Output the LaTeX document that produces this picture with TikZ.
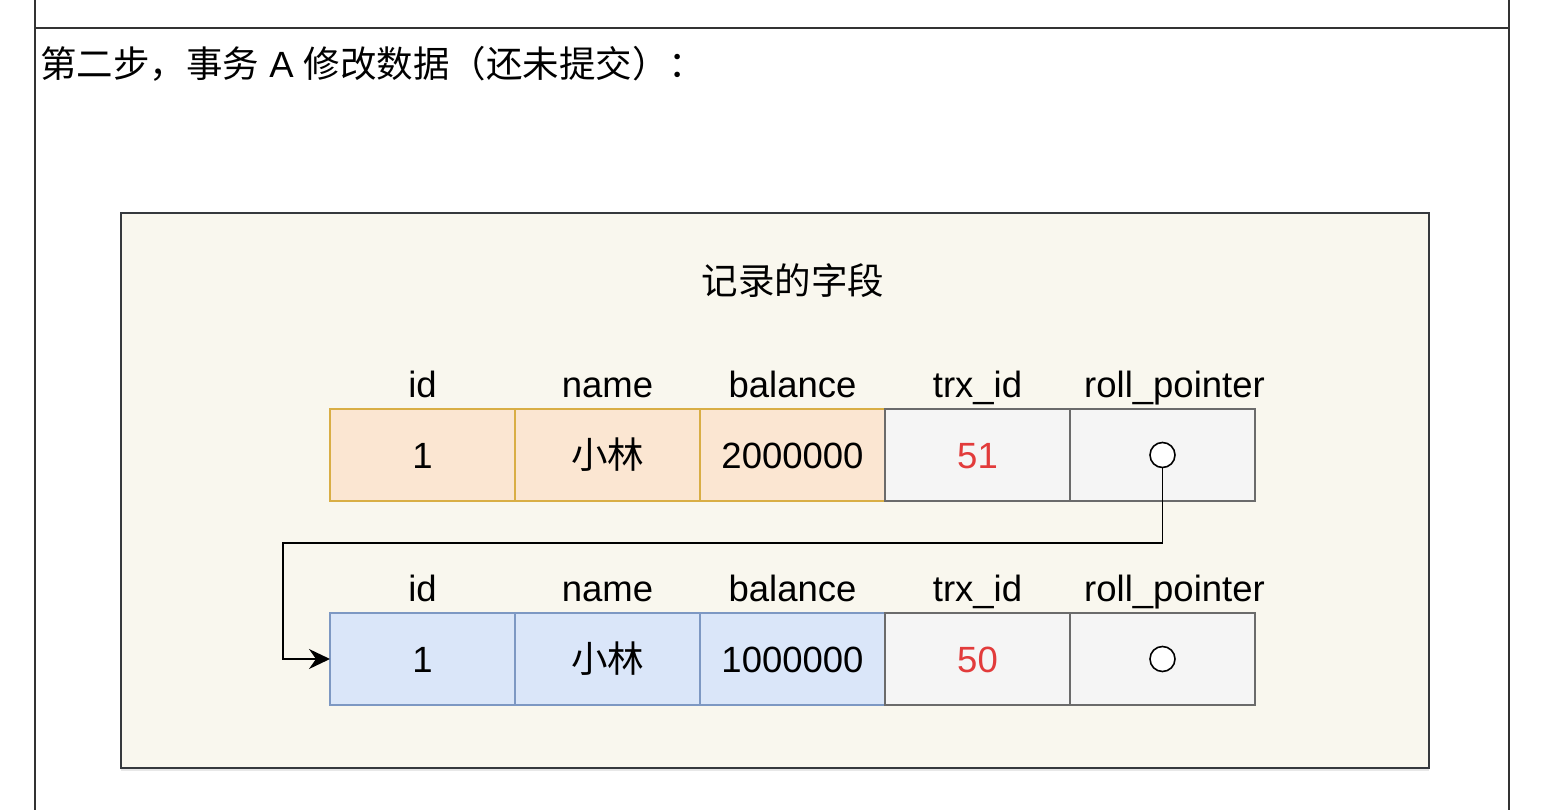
\documentclass[tikz,border=0pt]{standalone}
\usepackage{fontspec}
\setmainfont{Liberation Sans}
\newfontfamily\cjk{Noto Sans CJK SC}
\usetikzlibrary{arrows.meta,positioning,shadows}
\definecolor{frameline}{HTML}{333333}
\definecolor{paper}{HTML}{F9F7EE}
\definecolor{paperline}{HTML}{36393D}
\definecolor{newfill}{HTML}{FBE6D2}
\definecolor{newline}{HTML}{D9AE45}
\definecolor{oldfill}{HTML}{DAE6F9}
\definecolor{oldline}{HTML}{7D98C3}
\definecolor{metafill}{HTML}{F5F5F5}
\definecolor{metaline}{HTML}{6B6B6B}
\definecolor{trxred}{HTML}{E23B3B}
\tikzset{bigtext/.style={font=\fontsize{36.5}{44}\selectfont},
 cellbox/.style={bigtext,draw,line width=1.4pt,minimum width=185pt,minimum height=92pt,
 inner sep=0pt,outer sep=0pt,text height=26pt,text depth=0pt},
 newcell/.style={cellbox,fill=newfill,draw=newline},
 oldcell/.style={cellbox,fill=oldfill,draw=oldline},
 metacell/.style={cellbox,fill=metafill,draw=metaline},
 fieldname/.style={bigtext,inner sep=0pt,anchor=base},
 ptrdot/.style={circle,draw=black,fill=white,line width=1.6pt,minimum size=25pt,inner sep=0pt},
 ptrarrow/.style={-{Stealth[length=21pt,width=20pt,inset=7pt]},draw=black,line width=1.8pt}}

\begin{document}
\begin{tikzpicture}[x=1pt,y=-1pt,node distance=0pt]
\useasboundingbox (0,0) rectangle (1566,810);
\fill[white] (0,0) rectangle (1566,810);
\draw[frameline,line width=2.2pt] (35,0) -- (35,810) (1509,0) -- (1509,810) (35,28) -- (1509,28);
\node[bigtext,anchor=west,inner sep=0pt,font=\fontsize{36.5}{44}\selectfont] (step) at (40,64) {{\cjk 第二步，事务} A {\cjk 修改数据（还未提交）：}};
\node[draw=paperline,fill=paper,line width=2pt,minimum width=1308pt,minimum height=555pt,
 drop shadow={opacity=0.18,shadow xshift=0pt,shadow yshift=-3pt}] (panel) at (775,490.5) {};
\node[bigtext,inner sep=0pt] (title) at (793,281) {\cjk 记录的字段};
\node[newcell] (id1) at (422.5,455) {1};
\node[newcell,right=of id1] (name1) {\cjk 小林};
\node[newcell,right=of name1] (bal1) {2000000};
\node[metacell,right=of bal1,text=trxred] (trx1) {51};
\node[metacell,right=of trx1] (roll1) {};
\node[oldcell] (id2) at (422.5,659) {1};
\node[oldcell,right=of id2] (name2) {\cjk 小林};
\node[oldcell,right=of name2] (bal2) {1000000};
\node[metacell,right=of bal2,text=trxred] (trx2) {50};
\node[metacell,right=of trx2] (roll2) {};
\node[fieldname] (idh1) at ([yshift=12pt]id1.north) {id};
\node[fieldname] (nameh1) at ([yshift=12pt]name1.north) {name};
\node[fieldname] (balh1) at ([yshift=12pt]bal1.north) {balance};
\node[fieldname] (trxh1) at ([yshift=12pt]trx1.north) {trx\_id};
\node[fieldname] (rollh1) at ([xshift=12pt,yshift=12pt]roll1.north) {roll\_pointer};
\node[fieldname] (idh2) at ([yshift=12pt]id2.north) {id};
\node[fieldname] (nameh2) at ([yshift=12pt]name2.north) {name};
\node[fieldname] (balh2) at ([yshift=12pt]bal2.north) {balance};
\node[fieldname] (trxh2) at ([yshift=12pt]trx2.north) {trx\_id};
\node[fieldname] (rollh2) at ([xshift=12pt,yshift=12pt]roll2.north) {roll\_pointer};
\node[ptrdot] (ptr1) at (roll1.center) {};
\node[ptrdot] (ptr2) at (roll2.center) {};
\coordinate (turn) at (283,543);
\draw[ptrarrow] (ptr1.south) |- (turn) |- (id2.west);
\end{tikzpicture}
\end{document}
